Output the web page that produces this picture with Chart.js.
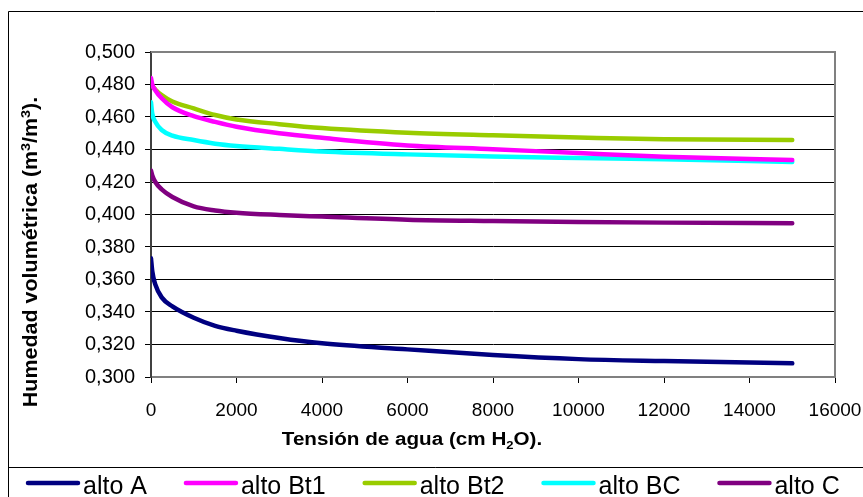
<!DOCTYPE html>
<html>
<head>
<meta charset="utf-8">
<script src="https://cdn.jsdelivr.net/npm/chart.js@4.4.1/dist/chart.umd.min.js"></script>
<style>
  html, body { margin: 0; padding: 0; background: #fff; }
  #wrap { width: 863px; height: 497px; }
</style>
</head>
<body>
<div id="wrap"><canvas id="chart"></canvas></div>
<script>
// tension (cm H2O) and volumetric moisture per horizon
const tension = [0, 30, 100, 250, 500, 1000, 1500, 2000, 3000, 4000, 6000, 8000, 10000, 12000, 15000];
const altoA   = [0.373, 0.365, 0.357, 0.349, 0.3435, 0.3365, 0.3315, 0.3285, 0.324, 0.3207, 0.317, 0.3135, 0.311, 0.3098, 0.3084];
const altoBt1 = [0.484, 0.480, 0.4765, 0.4715, 0.466, 0.4605, 0.457, 0.454, 0.450, 0.4472, 0.4425, 0.4402, 0.4378, 0.4355, 0.4335];
const altoBt2 = [0.482, 0.4795, 0.477, 0.4735, 0.4695, 0.4653, 0.4612, 0.4585, 0.4556, 0.4532, 0.4503, 0.4487, 0.4474, 0.4463, 0.4458];
const altoBC  = [0.469, 0.462, 0.4571, 0.452, 0.4485, 0.4458, 0.4436, 0.4422, 0.4404, 0.4388, 0.437, 0.4357, 0.4348, 0.434, 0.4323];
const altoC   = [0.427, 0.424, 0.420, 0.4155, 0.4108, 0.405, 0.4025, 0.4011, 0.3997, 0.3987, 0.3968, 0.396, 0.3954, 0.395, 0.3946];

const seriesNames = ['alto A', 'alto Bt1', 'alto Bt2', 'alto BC', 'alto C'];
const seriesData = [altoA, altoBt1, altoBt2, altoBC, altoC];
const seriesColors = ['#000080', '#FF00FF', '#99CC00', '#00FFFF', '#800080'];

const xTicksMax = 16000;
const yMin = 0.300, yMax = 0.500, yStep = 0.02;

const FONT = '"Liberation Sans", Arial, sans-serif';

// draw a string made of parts, some super/subscript, centred on 0
function drawRich(ctx, parts, size, bold, sx) {
  const base = (bold ? 'bold ' : '') + size + 'px ' + FONT;
  const small = (bold ? 'bold ' : '') + Math.round(size * 0.65) + 'px ' + FONT;
  let total = 0;
  parts.forEach(p => {
    ctx.font = p.s ? small : base;
    p.w = ctx.measureText(p.t).width;
    total += p.w;
  });
  ctx.save();
  ctx.scale(sx, 1);
  let x = -total / 2;
  parts.forEach(p => {
    ctx.font = p.s ? small : base;
    let dy = 0;
    if (p.s === 'sub') dy = size * 0.22;
    if (p.s === 'sup') dy = -size * 0.38;
    ctx.fillText(p.t, x, dy);
    x += p.w;
  });
  ctx.restore();
}

const decorPlugin = {
  id: 'decor',
  beforeDraw(chart) {
    const ctx = chart.ctx;
    ctx.save();
    ctx.fillStyle = '#fff';
    ctx.fillRect(0, 0, chart.width, chart.height);
    // outer frame
    ctx.strokeStyle = '#000';
    ctx.lineWidth = 1;
    ctx.beginPath();
    ctx.moveTo(8.5, chart.height);
    ctx.lineTo(8.5, 11.5);
    ctx.lineTo(chart.width, 11.5);
    ctx.stroke();
    // legend box top
    ctx.beginPath();
    ctx.moveTo(8.5, 467.5);
    ctx.lineTo(chart.width, 467.5);
    ctx.stroke();
    ctx.restore();
  },
  afterDraw(chart) {
    const ctx = chart.ctx;
    const a = chart.chartArea;
    ctx.save();
    // plot area border top / right
    ctx.strokeStyle = '#808080';
    ctx.lineWidth = 2;
    ctx.beginPath();
    ctx.moveTo(a.left, a.top);
    ctx.lineTo(a.right, a.top);
    ctx.lineTo(a.right, a.bottom);
    ctx.stroke();

    ctx.fillStyle = '#000';
    ctx.textBaseline = 'alphabetic';
    ctx.textAlign = 'left';
    // x title
    ctx.save();
    ctx.translate(412, 445);
    drawRich(ctx, [{t: 'Tensión de agua (cm H'}, {t: '2', s: 'sub'}, {t: 'O).'}], 17.5, true, 1.18);
    ctx.restore();
    // y title
    ctx.save();
    ctx.translate(37, 252);
    ctx.rotate(-Math.PI / 2);
    drawRich(ctx, [{t: 'Humedad volumétrica (m'}, {t: '3', s: 'sup'}, {t: '/m'}, {t: '3', s: 'sup'}, {t: ').'}], 19.5, true, 1.1);
    ctx.restore();

    // legend
    ctx.font = '25px ' + FONT;
    let x = 28;
    chart.data.datasets.forEach(ds => {
      ctx.strokeStyle = ds.borderColor;
      ctx.lineWidth = 4.5;
      ctx.lineCap = 'round';
      ctx.beginPath();
      ctx.moveTo(x, 483);
      ctx.lineTo(x + 50, 483);
      ctx.stroke();
      ctx.fillText(ds.label, x + 55, 494);
      x += 55 + ctx.measureText(ds.label).width + 39;
    });
    ctx.restore();
  }
};

const datasets = seriesNames.map((name, i) => ({
  label: name,
  data: tension.map((t, j) => ({ x: t, y: seriesData[i][j] })),
  borderColor: seriesColors[i],
  backgroundColor: seriesColors[i],
  borderWidth: 4.5,
  borderCapStyle: 'round',
  pointRadius: 0,
  showLine: true,
  fill: false,
  cubicInterpolationMode: 'monotone'
}));

new Chart(document.getElementById('chart'), {
  type: 'scatter',
  data: { datasets },
  options: {
    responsive: true,
    maintainAspectRatio: false,
    animation: false,
    layout: { padding: { top: 52, right: 28, left: 0, bottom: 0 } },
    plugins: {
      legend: { display: false },
      tooltip: { enabled: false }
    },
    scales: {
      x: {
        type: 'linear',
        min: 0,
        max: xTicksMax,
        afterFit(scale) {
          scale.height = 120;
          scale.paddingLeft = 0;
          scale.paddingRight = 0;
        },
        ticks: {
          stepSize: 2000,
          maxRotation: 0,
          autoSkip: false,
          padding: 16,
          color: '#000',
          font: { family: FONT, size: 19 },
          callback: v => String(v)
        },
        grid: { drawOnChartArea: false, drawTicks: true, tickLength: 6, color: '#000' },
        border: { color: '#808080', width: 2 }
      },
      y: {
        min: yMin,
        max: yMax,
        afterFit(scale) {
          scale.width = 151;
          scale.paddingTop = 0;
          scale.paddingBottom = 0;
        },
        ticks: {
          stepSize: yStep,
          padding: 10,
          color: '#000',
          font: { family: FONT, size: 20 },
          callback: v => v.toFixed(3).replace('.', ',')
        },
        grid: { color: '#000', lineWidth: 1, tickLength: 6 },
        border: { color: '#404040', width: 2 }
      }
    }
  },
  plugins: [decorPlugin]
});
</script>
</body>
</html>
